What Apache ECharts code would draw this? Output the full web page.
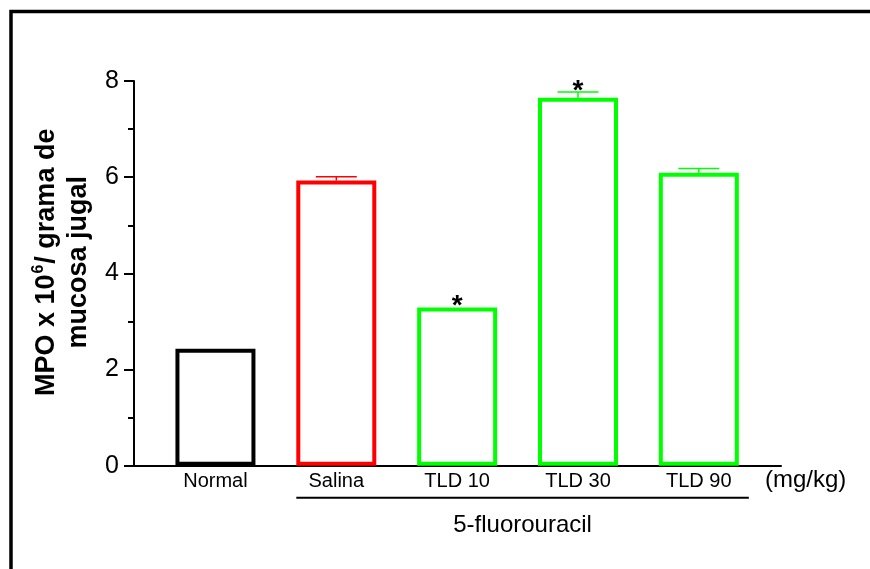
<!DOCTYPE html>
<html>
<head>
<meta charset="utf-8">
<script src="https://cdn.jsdelivr.net/npm/echarts@6/dist/echarts.min.js"></script>
<style>
  html, body { margin: 0; padding: 0; background: #fff; }
  #chart { width: 870px; height: 569px; }
</style>
</head>
<body>
<div id="chart"></div>
<script>
// Groups on the x axis
const categories = ['Normal', 'Salina', 'TLD 10', 'TLD 30', 'TLD 90'];
// MPO activity (x10^6 per gram of buccal mucosa), group means
const meanValues = [2.43, 5.93, 3.29, 7.65, 6.09];
// Standard error of each mean
const semValues = [0, 0.08, 0, 0.12, 0.09];
// Groups marked as significantly different
const significant = [false, false, true, true, false];
// Groups treated with 5-fluorouracil (first and last index)
const fluorouracilGroups = [1, 4];
// Y axis ticks
const yTicks = [0, 2, 4, 6, 8];

const barColors = ['#000000', '#ff0000', '#00ff00', '#00ff00', '#00ff00'];
const FONT = "'Liberation Sans', Arial, Helvetica, sans-serif";

const chart = echarts.init(document.getElementById('chart'), null, { renderer: 'canvas' });

const barData = meanValues.map((v, i) => ({
  value: [i, v],
  itemStyle: { color: '#ffffff', borderColor: barColors[i], borderWidth: 4 }
}));

const errorData = meanValues.map((v, i) => [i, v, semValues[i]]);
const starData = meanValues.map((v, i) => [i, v + semValues[i], significant[i] ? 1 : 0]);

chart.setOption({
  animation: false,
  backgroundColor: '#ffffff',
  grid: { left: 134, right: 89, top: 81, bottom: 103.3, containLabel: false },
  xAxis: {
    type: 'value',
    min: -0.674,
    max: 4.68,
    splitLine: { show: false },
    axisTick: { show: false },
    axisLine: { show: true, onZero: false, lineStyle: { color: '#000', width: 2 } },
    axisLabel: {
      customValues: categories.map((c, i) => i),
      formatter: (v) => categories[Math.round(v)],
      color: '#000',
      fontFamily: FONT,
      fontSize: 20,
      margin: 6
    },
    name: '(mg/kg)',
    nameLocation: 'end',
    nameGap: -16,
    nameTextStyle: {
      color: '#000',
      fontFamily: FONT,
      fontSize: 24,
      align: 'left',
      verticalAlign: 'top',
      padding: [3, 0, 0, 0]
    }
  },
  yAxis: {
    type: 'value',
    min: yTicks[0],
    max: yTicks[yTicks.length - 1],
    interval: 2,
    splitLine: { show: false },
    axisLine: { show: true, onZero: false, lineStyle: { color: '#000', width: 2 } },
    axisTick: { show: true, length: 10, lineStyle: { color: '#000', width: 2 } },
    minorTick: { show: true, splitNumber: 2, length: 6, lineStyle: { color: '#000', width: 2 } },
    axisLabel: {
      color: '#000',
      fontFamily: FONT,
      fontSize: 25,
      margin: 15
    },
    name: '{b|MPO x 10}{sup|6}{b|/ grama de}\n{b|mucosa jugal}',
    nameLocation: 'middle',
    nameRotate: 90,
    nameGap: 36,
    nameTextStyle: {
      color: '#000',
      fontFamily: FONT,
      fontWeight: 'bold',
      fontSize: 27,
      lineHeight: 32,
      padding: [0, 0, 0, 22],
      rich: {
        b: { fontFamily: FONT, fontWeight: 'bold', fontSize: 27, lineHeight: 32, color: '#000' },
        sup: { fontFamily: FONT, fontWeight: 'bold', fontSize: 16, lineHeight: 32, verticalAlign: 'top', padding: [0, 1, 14, 1], color: '#000' }
      }
    }
  },
  graphic: [
    {
      type: 'polyline',
      shape: { points: [[11, 569], [11, 11.5], [870, 11.5]] },
      style: { stroke: '#000', lineWidth: 3.5, fill: null }
    }
  ],
  series: [
    {
      type: 'bar',
      data: barData,
      barWidth: 80,
      z: 2
    },
    {
      // error bars: stem + cap above each mean
      type: 'custom',
      z: 1,
      data: errorData,
      renderItem: (params, api) => {
        const i = api.value(0);
        const sem = api.value(2);
        if (!(sem > 0)) return null;
        const base = api.coord([i, api.value(1)]);
        const top = api.coord([i, api.value(1) + sem]);
        const color = barColors[i];
        return {
          type: 'group',
          children: [
            { type: 'line', shape: { x1: top[0], y1: base[1], x2: top[0], y2: top[1] }, style: { stroke: color, lineWidth: 1.5 } },
            { type: 'line', shape: { x1: top[0] - 20.5, y1: top[1], x2: top[0] + 20.5, y2: top[1] }, style: { stroke: color, lineWidth: 1.5 } }
          ]
        };
      }
    },
    {
      // significance markers
      type: 'custom',
      z: 3,
      data: starData,
      renderItem: (params, api) => {
        if (!api.value(2)) return null;
        const p = api.coord([api.value(0), api.value(1)]);
        return {
          type: 'text',
          x: p[0],
          y: p[1] - 1,
          style: {
            text: '*',
            fill: '#000',
            font: 'bold 28px ' + FONT,
            align: 'center',
            verticalAlign: 'middle'
          }
        };
      }
    },
    {
      // bracket under the 5-fluorouracil groups
      type: 'custom',
      z: 3,
      clip: false,
      data: [[fluorouracilGroups[0], fluorouracilGroups[1]]],
      renderItem: (params, api) => {
        const a = api.coord([api.value(0), 0]);
        const b = api.coord([api.value(1), 0]);
        const x0 = a[0] - 40;
        const x1 = b[0] + 50;
        const y = a[1] + 32;
        return {
          type: 'group',
          children: [
            { type: 'line', shape: { x1: x0, y1: y, x2: x1, y2: y }, style: { stroke: '#000', lineWidth: 2 } },
            {
              type: 'text',
              x: (x0 + x1) / 2,
              y: a[1] + 60,
              style: {
                text: '5-fluorouracil',
                fill: '#000',
                font: '24px ' + FONT,
                align: 'center',
                verticalAlign: 'middle'
              }
            }
          ]
        };
      }
    }
  ]
});
</script>
</body>
</html>
